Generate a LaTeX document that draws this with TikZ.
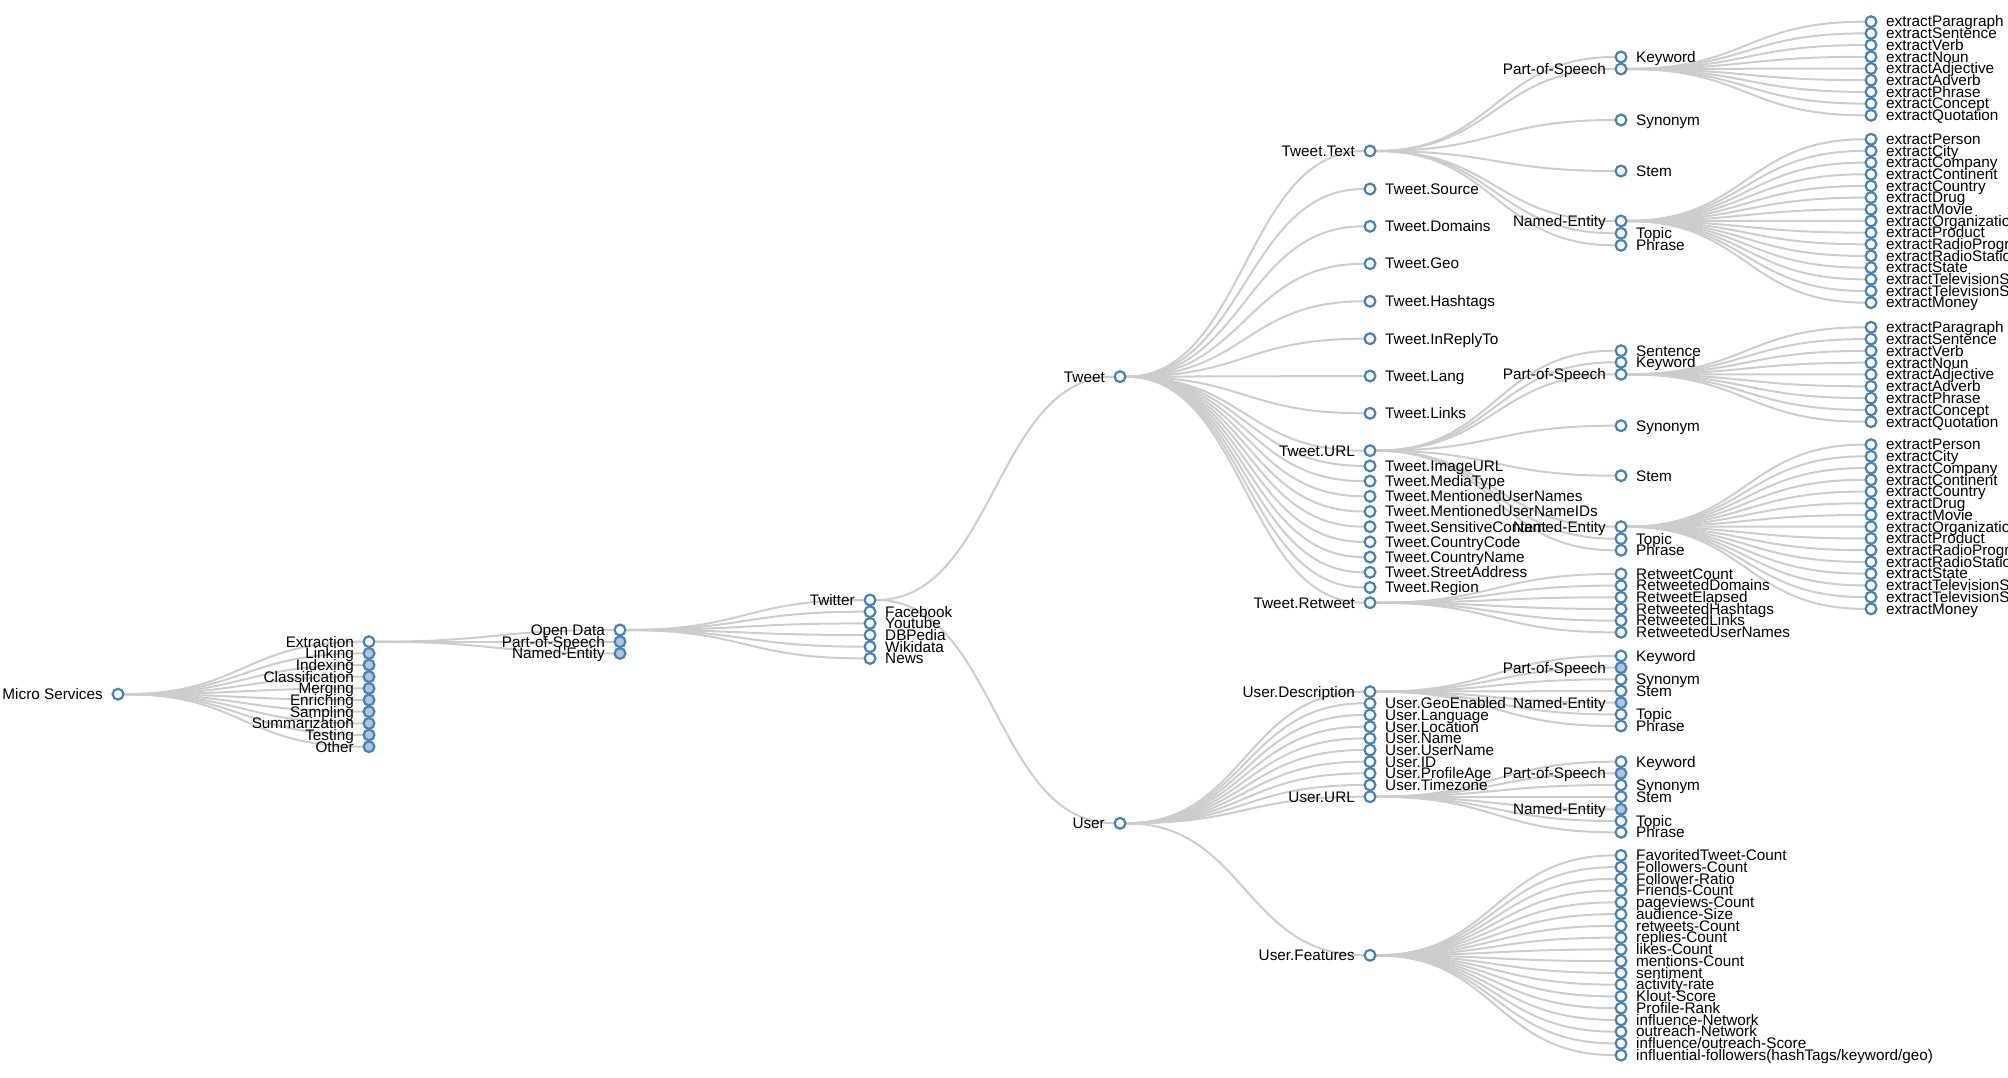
\documentclass[tikz,border=0pt]{standalone}
\usepackage{fontspec}
\setmainfont{Liberation Sans}
\usetikzlibrary{backgrounds}
\definecolor{nodeblue}{HTML}{4682B4}
\definecolor{shutblue}{HTML}{B0C4DE}
\definecolor{linkgray}{HTML}{CCCCCC}

\begin{document}
\begin{tikzpicture}[
  x=1pt, y=-1pt,
  lab/.style={font=\fontsize{15.3}{15.3}\selectfont, inner sep=0pt, text=black},
  dot/.style={circle, draw=nodeblue, fill=white, line width=2.2pt, minimum size=10.8pt, inner sep=0pt},
  leaf/.style={dot, label={[lab, anchor=base west, xshift=8.5pt, yshift=-5.3pt]right:#1}},
  inner/.style={dot, label={[lab, anchor=base east, xshift=-8.5pt, yshift=-5.3pt]left:#1}},
  shut/.style={inner=#1, fill=shutblue},
  link/.style={draw=linkgray, line width=2pt, to path={.. controls +(125,0) and +(-125,0) .. (\tikztotarget)}}
]
\useasboundingbox (0,0) rectangle (2008,1078);

% micro services and the first levels
\node[inner=Micro Services] (ms) at (118,694.2) {};
\node[inner=Extraction] (extraction) at (369,641.7) {};
\begin{pgfonlayer}{background}\draw[link] (ms) to (extraction);\end{pgfonlayer}
\foreach \y/\txt [count=\i] in {653.4/Linking, 665/Indexing, 676.7/Classification, 688.4/Merging,
  700/Enriching, 711.7/Sampling, 723.4/Summarization, 735/Testing, 746.7/Other}{
  \node[shut=\txt] (svc\i) at (369,\y) {};
  \begin{pgfonlayer}{background}\draw[link] (ms) to (svc\i);\end{pgfonlayer}
}

\node[inner=Open Data] (opendata) at (620,630) {};
\node[shut=Part-of-Speech] (xpos) at (620,641.7) {};
\node[shut=Named-Entity] (xne) at (620,653.4) {};
\begin{pgfonlayer}{background}
  \draw[link] (extraction) to (opendata);
  \draw[link] (extraction) to (xpos);
  \draw[link] (extraction) to (xne);
\end{pgfonlayer}

\node[inner=Twitter] (twitter) at (870,600) {};
\begin{pgfonlayer}{background}\draw[link] (opendata) to (twitter);\end{pgfonlayer}
\foreach \y/\txt [count=\i] in {611.7/Facebook, 623.4/Youtube, 635/DBPedia, 646.7/Wikidata, 658.4/News}{
  \node[leaf=\txt] (src\i) at (870,\y) {};
  \begin{pgfonlayer}{background}\draw[link] (opendata) to (src\i);\end{pgfonlayer}
}

\node[inner=Tweet] (tweet) at (1120,376.7) {};
\node[inner=User] (user) at (1120,823.3) {};
\begin{pgfonlayer}{background}
  \draw[link] (twitter) to (tweet);
  \draw[link] (twitter) to (user);
\end{pgfonlayer}

% tweet fields
\node[inner=Tweet.Text] (ttext) at (1370,151) {};
\node[inner=Tweet.URL] (turl) at (1370,450.7) {};
\node[inner=Tweet.Retweet] (tretweet) at (1370,602.7) {};
\begin{pgfonlayer}{background}
  \draw[link] (tweet) to (ttext);
  \draw[link] (tweet) to (turl);
  \draw[link] (tweet) to (tretweet);
\end{pgfonlayer}
\foreach \y/\txt [count=\i] in {189/Tweet.Source, 226.3/Tweet.Domains, 263.7/Tweet.Geo,
  301.3/Tweet.Hashtags, 338.7/Tweet.InReplyTo, 376/Tweet.Lang, 413.3/Tweet.Links,
  465.9/Tweet.ImageURL, 481.1/Tweet.MediaType, 496.3/Tweet.MentionedUserNames,
  511.5/Tweet.MentionedUserNameIDs, 526.7/Tweet.SensitiveContent, 541.9/Tweet.CountryCode,
  557.1/Tweet.CountryName, 572.3/Tweet.StreetAddress, 587.5/Tweet.Region}{
  \node[leaf=\txt] (tf\i) at (1370,\y) {};
  \begin{pgfonlayer}{background}\draw[link] (tweet) to (tf\i);\end{pgfonlayer}
}

% tweet.text analysis
\node[inner=Part-of-Speech] (tpos) at (1621,69) {};
\node[inner=Named-Entity] (tne) at (1621,221) {};
\begin{pgfonlayer}{background}
  \draw[link] (ttext) to (tpos);
  \draw[link] (ttext) to (tne);
\end{pgfonlayer}
\foreach \y/\txt [count=\i] in {57/Keyword, 120/Synonym, 171/Stem, 233.3/Topic, 245.3/Phrase}{
  \node[leaf=\txt] (tta\i) at (1621,\y) {};
  \begin{pgfonlayer}{background}\draw[link] (ttext) to (tta\i);\end{pgfonlayer}
}
\foreach \txt [count=\i] in {extractParagraph, extractSentence, extractVerb, extractNoun,
  extractAdjective, extractAdverb, extractPhrase, extractConcept, extractQuotation}{
  \node[leaf=\txt] (tposx\i) at (1871,{10+11.7*\i}) {};
  \begin{pgfonlayer}{background}\draw[link] (tpos) to (tposx\i);\end{pgfonlayer}
}
\foreach \txt [count=\i] in {extractPerson, extractCity, extractCompany, extractContinent,
  extractCountry, extractDrug, extractMovie, extractOrganization, extractProduct,
  extractRadioProgram, extractRadioStation, extractState, extractTelevisionShow,
  extractTelevisionStation, extractMoney}{
  \node[leaf=\txt] (tnex\i) at (1871,{127.6+11.67*\i}) {};
  \begin{pgfonlayer}{background}\draw[link] (tne) to (tnex\i);\end{pgfonlayer}
}

% tweet.url analysis
\node[inner=Part-of-Speech] (upos) at (1621,374.3) {};
\node[inner=Named-Entity] (une) at (1621,526.7) {};
\begin{pgfonlayer}{background}
  \draw[link] (turl) to (upos);
  \draw[link] (turl) to (une);
\end{pgfonlayer}
\foreach \y/\txt [count=\i] in {350.7/Sentence, 362.3/Keyword, 425.7/Synonym, 475.7/Stem,
  538.7/Topic, 550.3/Phrase}{
  \node[leaf=\txt] (ua\i) at (1621,\y) {};
  \begin{pgfonlayer}{background}\draw[link] (turl) to (ua\i);\end{pgfonlayer}
}
\foreach \txt [count=\i] in {extractParagraph, extractSentence, extractVerb, extractNoun,
  extractAdjective, extractAdverb, extractPhrase, extractConcept, extractQuotation}{
  \node[leaf=\txt] (uposx\i) at (1871,{315.5+11.8*\i}) {};
  \begin{pgfonlayer}{background}\draw[link] (upos) to (uposx\i);\end{pgfonlayer}
}
\foreach \txt [count=\i] in {extractPerson, extractCity, extractCompany, extractContinent,
  extractCountry, extractDrug, extractMovie, extractOrganization, extractProduct,
  extractRadioProgram, extractRadioStation, extractState, extractTelevisionShow,
  extractTelevisionStation, extractMoney}{
  \node[leaf=\txt] (unex\i) at (1871,{432.9+11.73*\i}) {};
  \begin{pgfonlayer}{background}\draw[link] (une) to (unex\i);\end{pgfonlayer}
}

% retweet fields
\foreach \txt [count=\i] in {RetweetCount, RetweetedDomains, RetweetElapsed,
  RetweetedHashtags, RetweetedLinks, RetweetedUserNames}{
  \node[leaf=\txt] (rt\i) at (1621,{562.3+11.67*\i}) {};
  \begin{pgfonlayer}{background}\draw[link] (tretweet) to (rt\i);\end{pgfonlayer}
}

% user fields
\node[inner=User.Description] (udesc) at (1370,691.7) {};
\node[inner=User.URL] (uurl) at (1370,796.7) {};
\node[inner=User.Features] (ufeat) at (1370,955.3) {};
\begin{pgfonlayer}{background}
  \draw[link] (user) to (udesc);
  \draw[link] (user) to (uurl);
  \draw[link] (user) to (ufeat);
\end{pgfonlayer}
\foreach \y/\txt [count=\i] in {703.4/User.GeoEnabled, 715/User.Language, 726.7/User.Location,
  738.4/User.Name, 750/User.UserName, 761.7/User.ID, 773.4/User.ProfileAge, 785/User.Timezone}{
  \node[leaf=\txt] (uf\i) at (1370,\y) {};
  \begin{pgfonlayer}{background}\draw[link] (user) to (uf\i);\end{pgfonlayer}
}

% description and url analysis
\node[shut=Part-of-Speech] (dpos) at (1621,667.7) {};
\node[shut=Named-Entity] (dne) at (1621,702.7) {};
\node[shut=Part-of-Speech] (lpos) at (1621,773.3) {};
\node[shut=Named-Entity] (lne) at (1621,809.3) {};
\begin{pgfonlayer}{background}
  \draw[link] (udesc) to (dpos);
  \draw[link] (udesc) to (dne);
  \draw[link] (uurl) to (lpos);
  \draw[link] (uurl) to (lne);
\end{pgfonlayer}
\foreach \y/\txt [count=\i] in {656/Keyword, 679.3/Synonym, 691/Stem, 714.4/Topic, 726/Phrase}{
  \node[leaf=\txt] (da\i) at (1621,\y) {};
  \begin{pgfonlayer}{background}\draw[link] (udesc) to (da\i);\end{pgfonlayer}
}
\foreach \y/\txt [count=\i] in {761.7/Keyword, 785/Synonym, 796.7/Stem, 821/Topic, 832.3/Phrase}{
  \node[leaf=\txt] (la\i) at (1621,\y) {};
  \begin{pgfonlayer}{background}\draw[link] (uurl) to (la\i);\end{pgfonlayer}
}

% user features
\foreach \txt [count=\i] in {FavoritedTweet-Count, Followers-Count, Follower-Ratio,
  Friends-Count, pageviews-Count, audience-Size, retweets-Count, replies-Count, likes-Count,
  mentions-Count, sentiment, activity-rate, Klout-Score, Profile-Rank, influence-Network,
  outreach-Network, {influence/outreach-Score}, {influential-followers(hashTags/keyword/geo)}}{
  \node[leaf=\txt] (feat\i) at (1621,{843.65+11.75*\i}) {};
  \begin{pgfonlayer}{background}\draw[link] (ufeat) to (feat\i);\end{pgfonlayer}
}
\end{tikzpicture}
\end{document}
